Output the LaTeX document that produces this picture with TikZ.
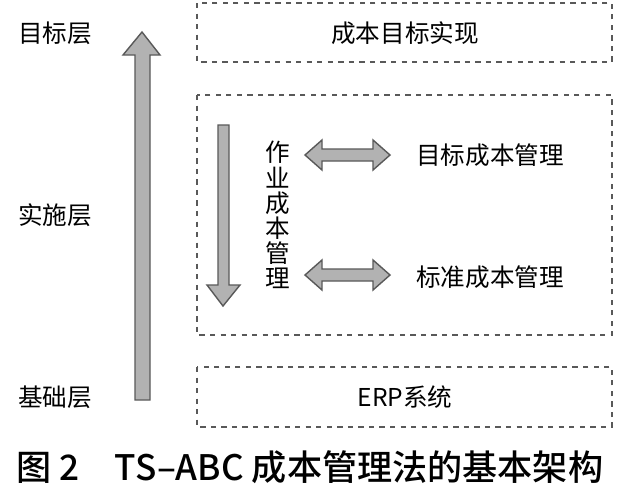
\documentclass[tikz,border=0pt]{standalone}
\usepackage{fontspec}
\setmainfont{Noto Sans CJK SC}
\newfontfamily\capfont{Noto Sans CJK SC Medium}
\usetikzlibrary{positioning}
\begin{document}
\begin{tikzpicture}[
    x=0.02cm, y=-0.02cm,
    layer/.style={dashed, draw=black!65, line width=0.8pt},
    lab/.style={font=\fontsize{14}{14.3}\selectfont, inner sep=0pt},
    garrow/.style={fill=black!30, draw=black!65, line width=0.8pt}
]
    \useasboundingbox[fill=white] (0,0) rectangle (625,491);
    % layer labels
    \node[lab] (top) at (55,33) {目标层};
    \node[lab] (mid) at (55,215) {实施层};
    \node[lab] (bot) at (55,397) {基础层};
    % dashed boxes
    \draw[layer] (197,3) rectangle (612,62);
    \draw[layer] (197,95) rectangle (612,335);
    \draw[layer] (197,367) rectangle (612,427);
    \node[lab] (goal) at (405,33) {成本目标实现};
    \node[lab] (erp) at (405,397) {ERP系统};
    % arrows
    \draw[garrow] (135,400) -- (150,400) -- (150,55) -- (160,55) -- (142,32) -- (123,55) -- (135,55) -- cycle;
    \draw[garrow] (218,125) -- (229,125) -- (229,285) -- (240,285) -- (223,306) -- (207,285) -- (218,285) -- cycle;
    \foreach \yy in {155,275} {
        \draw[garrow] (305,\yy) -- (322,\yy-15) -- (322,\yy-6) -- (373,\yy-6) -- (373,\yy-15) -- (390,\yy)
            -- (373,\yy+15) -- (373,\yy+6) -- (322,\yy+6) -- (322,\yy+15) -- cycle;
    }
    \node[lab, align=center] (abc) at (278,215) {作\\业\\成\\本\\管\\理};
    \node[lab] (tgt) at (490,155) {目标成本管理};
    \node[lab] (std) at (490,277) {标准成本管理};
    % caption
    \node[font=\capfont\fontsize{20}{22}\selectfont, inner sep=0pt] (cap) at (310,467) {图 2\quad TS–ABC 成本管理法的基本架构};
\end{tikzpicture}
\end{document}
